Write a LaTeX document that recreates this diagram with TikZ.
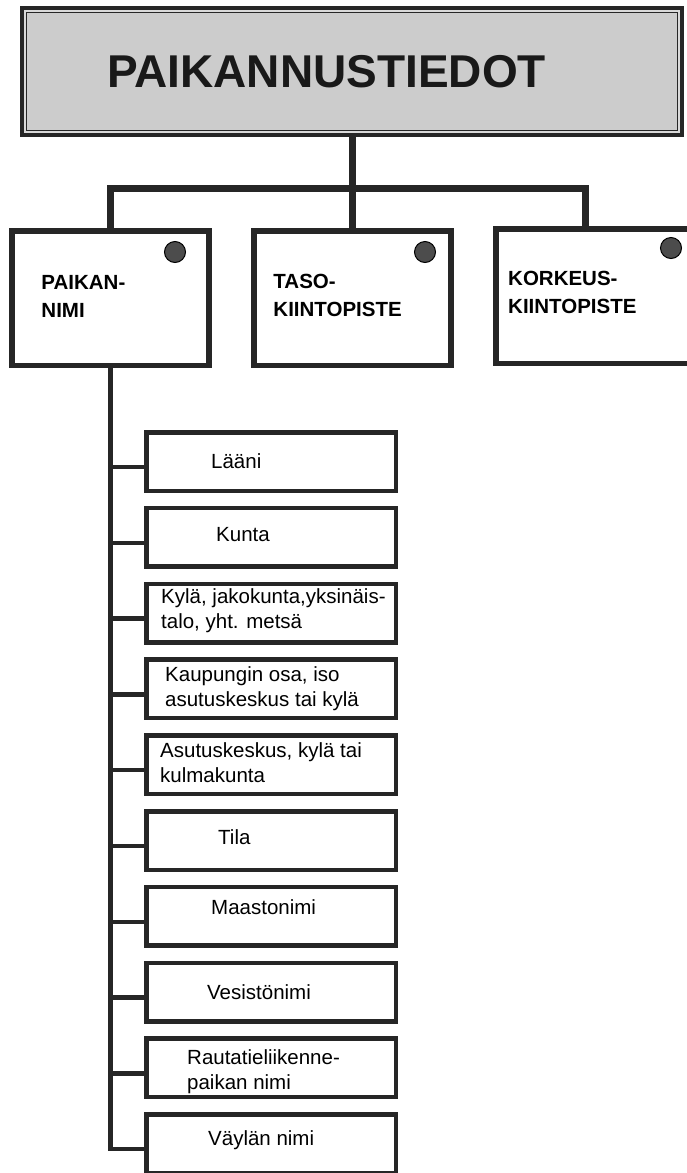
\documentclass[tikz,border=0pt]{standalone}
\usepackage{fontspec}
\setmainfont{Liberation Sans}
\usetikzlibrary{positioning}

\begin{document}
\begin{tikzpicture}[x=1pt, y=-1pt,
  hd/.style={draw=black!85, line width=7pt, fill=black!20, minimum width=657pt, minimum height=124pt, inner sep=0pt},
  tb/.style={draw=black!85, line width=5.5pt, fill=white, minimum width=197pt, minimum height=134.5pt, inner sep=0pt},
  lf/.style={draw=black!85, line width=4.5pt, fill=white, minimum width=249.5pt, minimum height=58.5pt, inner sep=0pt},
  spot/.style={circle, draw=black, line width=1pt, fill=black!70, minimum size=21pt, inner sep=0pt},
  ht/.style={font=\fontsize{46}{50}\selectfont\bfseries, text=black!90, inner sep=0pt},
  tt/.style={font=\fontsize{20.5}{28}\selectfont\bfseries, align=left, inner sep=0pt},
  lt/.style={font=\fontsize{20.5}{25}\selectfont, align=left, inner sep=0pt},
  trunk/.style={draw=black!85, line width=7pt},
  ln/.style={draw=black!85, line width=4.5pt}]
\useasboundingbox (0,0) rectangle (687,1173);
\node[hd] (hd) at (352,71.5) {};
\draw[white!85!black, line width=1.2pt] ([shift={(5,5)}]hd.north west) rectangle ([shift={(-5,-5)}]hd.south east);
\node[ht, anchor=west] (title) at (107,72) {PAIKANNUSTIEDOT};
\coordinate (jn) at (352,188);
\node[tb] (pn) at (110.5,298) {};
\node[tb] (tk) at (352.5,298) {};
\node[tb] (kk) at (594.25,296) {};
\draw[trunk] (hd.south) -- (hd.south |- tk.north);
\draw[trunk] (pn.north) |- (jn) -| ([xshift=-9pt]kk.north);
\node[tt, anchor=west] (pnt) at ([xshift=32pt, yshift=2pt]pn.west) {PAIKAN-\\NIMI};
\node[tt, anchor=west] (tkt) at ([xshift=22pt, yshift=3pt]tk.west) {TASO-\\KIINTOPISTE};
\node[tt, anchor=west] (kkt) at ([xshift=15pt, yshift=3.5pt]kk.west) {KORKEUS-\\KIINTOPISTE};
\node[spot] (pnd) at (175,252) {};
\node[spot] (tkd) at (425,252) {};
\node[spot] (kkd) at (671,248) {};
\foreach \i/\dx/\dy/\txt in {
  1/67/0/{Lääni},
  2/72/3/{Kunta},
  3/17/2.5/{Kylä, jakokunta,yksinäis-\\talo, yht. metsä},
  4/21/0/{Kaupungin osa, iso\\asutuskeskus tai kylä},
  5/16/2/{Asutuskeskus, kylä tai\\kulmakunta},
  6/74/3.5/{Tila},
  7/67/9/{Maastonimi},
  8/63/0/{Vesistönimi},
  9/43/-3.5/{Rautatieliikenne-\\paikan nimi},
  10/64/4/{Väylän nimi}} {
  \node[lf] (c\i) at (271,{461.5+75.8*(\i-1)}) {};
  \node[lt, anchor=west] (t\i) at ([xshift=\dx pt, yshift=\dy pt]c\i.west) {\txt};
  \coordinate (b\i) at ([yshift=-5.5pt]c\i.west);
}
\draw[ln] (pn.south) |- (b10);
\foreach \i in {1,...,9}
  \draw[ln] (b\i) -- (b\i -| pn.south);
\end{tikzpicture}
\end{document}
